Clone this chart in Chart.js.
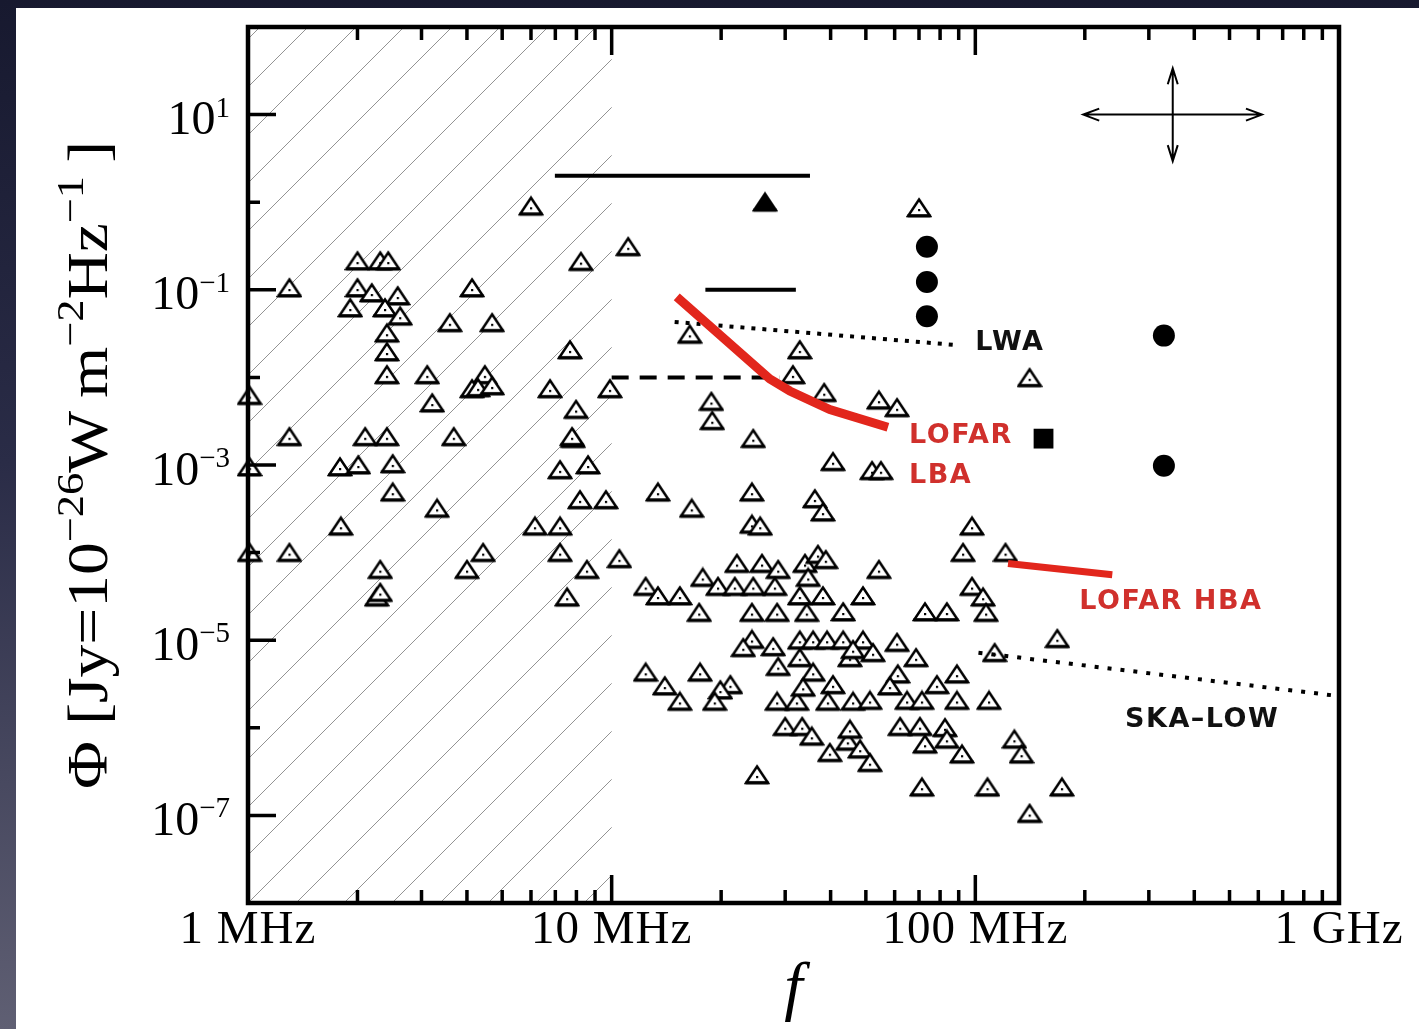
<!DOCTYPE html>
<html>
<head>
<meta charset="utf-8">
<script src="https://cdn.jsdelivr.net/npm/chart.js@4.4.0/dist/chart.umd.min.js"></script>
<style>
  html, body { margin: 0; padding: 0; }
  body {
    width: 1419px; height: 1029px; overflow: hidden; position: relative;
    background: linear-gradient(180deg, #17192f 0%, #2a2c47 45%, #5f5f73 100%);
  }
  #panel { position: absolute; left: 16px; top: 8px; width: 1403px; height: 1021px; background: #fff; }
</style>
</head>
<body>
<div id="panel"><canvas id="chart" width="1403" height="1021"></canvas></div>
<script>
// frequency in MHz, flux density in Jy
const triFreq = [
  6.00, 2.00, 2.31, 2.43, 1.30, 2.00, 2.19, 2.58, 4.13, 1.91,
  2.38, 2.62, 3.59, 4.69, 2.41, 2.41, 2.41, 3.11, 4.48, 4.13,
  4.29, 4.69, 3.21, 1.01, 6.77, 1.30, 2.10, 2.41, 3.68, 1.79,
  2.01, 2.50, 1.01, 7.83, 7.21, 8.61, 2.50, 3.31, 8.18, 9.64,
  1.80, 6.15, 7.21, 1.30, 1.01, 4.43, 7.21, 10.5, 2.31, 4.00,
  8.55, 2.26, 2.31, 7.54, 11.1, 8.23, 16.4, 32.9, 7.68, 31.5,
  9.89, 7.98, 18.8, 18.9, 7.78, 24.5, 70.0, 38.4, 54.3, 60.9,
  141, 40.6, 52.0, 55.0, 13.4, 24.3, 36.2, 38.1, 16.6, 24.3,
  25.6, 22.1, 25.9, 28.7, 34.0, 36.9, 38.8, 17.8, 12.4, 13.4,
  15.4, 19.6, 21.8, 24.5, 28.1, 34.7, 32.9, 38.1, 49.1, 17.4,
  24.3, 28.5, 34.4, 43.3, 24.3, 23.0, 27.8, 32.9, 35.8, 39.1,
  43.3, 49.1, 45.2, 32.9, 28.7, 12.4, 14.0, 17.5, 21.2, 19.9,
  35.8, 40.6, 15.4, 19.2, 28.5, 32.3, 39.3, 46.1, 33.6, 30.0,
  33.4, 35.5, 39.8, 44.6, 45.2, 25.1, 97.9, 92.5, 121, 54.3,
  97.9, 105, 72.7, 83.5, 107, 168, 46.1, 52.3, 60.9, 68.7,
  113, 61.2, 89.0, 58.2, 78.4, 51.3, 64.9, 71.3, 89.0, 109,
  62.1, 70.4, 82.5, 128, 72.7, 83.5, 91.9, 134, 48.2, 51.3,
  71.3, 108, 173, 141
];
const triFlux = [
  0.90, 0.213, 0.213, 0.213, 0.105, 0.105, 0.092, 0.085, 0.105, 0.062,
  0.062, 0.050, 0.042, 0.042, 0.032, 0.0195, 0.0107, 0.0107, 0.0107, 0.0074,
  0.0076, 0.0080, 0.0051, 0.0062, 0.0074, 0.0021, 0.0021, 0.0021, 0.0021, 9.5e-4,
  1.0e-3, 1.03e-3, 9.5e-4, 2.0e-3, 8.8e-4, 1.0e-3, 4.9e-4, 3.2e-4, 4.0e-4, 4.0e-4,
  2.0e-4, 2.0e-4, 2.0e-4, 1.0e-4, 1.0e-4, 1.0e-4, 1.0e-4, 8.5e-5, 6.4e-5, 6.4e-5,
  6.4e-5, 3.1e-5, 3.5e-5, 3.1e-5, 0.31, 0.21, 0.031, 0.0206, 0.0206, 0.0107,
  0.0074, 0.0043, 0.0053, 0.0032, 0.0021, 0.0020, 0.86, 0.0067, 0.0055, 0.0045,
  0.0099, 1.09e-3, 8.6e-4, 8.6e-4, 4.9e-4, 4.9e-4, 4.1e-4, 2.9e-4, 3.2e-4, 2.1e-4,
  2.0e-4, 7.5e-5, 7.5e-5, 6.4e-5, 7.5e-5, 9.5e-5, 8.3e-5, 5.2e-5, 4.1e-5, 3.2e-5,
  3.2e-5, 4.1e-5, 4.1e-5, 4.1e-5, 4.1e-5, 5.2e-5, 3.2e-5, 3.2e-5, 3.2e-5, 2.07e-5,
  2.07e-5, 2.07e-5, 2.07e-5, 2.1e-5, 1.02e-5, 8.2e-6, 8.4e-6, 1.0e-5, 1.0e-5, 1.0e-5,
  1.0e-5, 1.0e-5, 6.3e-6, 6.3e-6, 5.0e-6, 4.3e-6, 3.0e-6, 4.3e-6, 3.1e-6, 2.7e-6,
  4.3e-6, 3.1e-6, 2.0e-6, 2.0e-6, 2.0e-6, 2.0e-6, 2.0e-6, 2.0e-6, 2.9e-6, 1.03e-6,
  1.03e-6, 8.0e-7, 5.2e-7, 7.0e-7, 9.6e-7, 2.9e-7, 2.0e-4, 1.0e-4, 1.0e-4, 6.4e-5,
  4.1e-5, 3.1e-5, 2.1e-5, 2.1e-5, 2.07e-5, 1.04e-5, 7.8e-6, 7.2e-6, 9.4e-6, 6.3e-6,
  7.2e-6, 4.1e-6, 4.1e-6, 3.0e-6, 3.1e-6, 2.05e-6, 2.05e-6, 2.05e-6, 2.05e-6, 2.05e-6,
  1.03e-6, 1.03e-6, 1.0e-6, 7.4e-7, 6.5e-7, 7.4e-7, 5.0e-7, 5.0e-7, 5.7e-7, 4.0e-7,
  2.1e-7, 2.1e-7, 2.1e-7, 1.05e-7
];

const filledTriFreq = [26.4];
const filledTriFlux = [1.0];
const circleFreq = [73.6, 73.6, 73.6, 330, 330];
const circleFlux = [0.31, 0.123, 0.050, 0.030, 0.00098];
const squareFreq = [154];
const squareFlux = [0.0020];

// instrument sensitivity curves
const lbaFreq = [15.1, 27.2, 30.9, 39.8, 57.5];
const lbaFlux = [0.083, 0.0096, 0.0070, 0.0043, 0.0027];
const hbaFreq = [123, 238];
const hbaFlux = [7.5e-5, 5.6e-5];
const lwaFreq = [14.9, 87.9];
const lwaFlux = [0.043, 0.0235];
const skaFreq = [102, 1000];
const skaFlux = [7.2e-6, 2.3e-6];

// horizontal limit bars
const barHighFreq = [6.98, 35.1];
const barHighFlux = [2.0, 2.0];
const barMidFreq = [18.1, 32.1];
const barMidFlux = [0.10, 0.10];
const barDashFreq = [10, 29.0];
const barDashFlux = [0.010, 0.010];

// text labels in the plot
const noteText = ['LWA', 'LOFAR', 'LBA', 'LOFAR HBA', 'SKA\u2013LOW'];
const noteFreq = [100, 65.7, 65.7, 193, 258];
const noteFlux = [0.0247, 0.00215, 0.00075, 2.75e-5, 1.24e-6];
const noteRed = [false, true, true, true, false];

// the double-arrow cross in the upper right
const crossHFreq = [198, 614];
const crossHFlux = 10;
const crossVFreq = 349;
const crossVFlux = [33.8, 2.94];

const xTickValues = [1, 10, 100, 1000];
const xTickLabels = ['1 MHz', '10 MHz', '100 MHz', '1 GHz'];
const yTickExps = [1, -1, -3, -5, -7];
const yMinorExps = [0, -2, -4, -6];
const hatchBand = [1, 10];

const RED = '#e2261c';
const LABEL_RED = '#d0302c';
const SERIF = '"Liberation Serif", "DejaVu Serif", serif';

function pts(xs, ys) {
  return xs.map((v, i) => ({ x: v, y: ys[i] }));
}

// open triangle with a centre dot, like the original symbols
function makeTriangle(filled) {
  const c = document.createElement('canvas');
  c.width = 26; c.height = 22;
  const g = c.getContext('2d');
  g.beginPath();
  g.moveTo(13, 2.5); g.lineTo(24, 19); g.lineTo(2, 19); g.closePath();
  g.fillStyle = filled ? '#000' : '#fff';
  g.fill();
  g.lineWidth = 2.5;
  g.strokeStyle = '#000';
  g.stroke();
  g.fillStyle = '#000';
  g.fillRect(1.5, 17.2, 23, 3.2);
  if (!filled) g.fillRect(12, 12, 2.2, 2.2);
  return c;
}

function richWidth(ctx, parts, base, sup) {
  let w = 0;
  for (const [t, s] of parts) { ctx.font = s ? sup : base; w += ctx.measureText(t).width; }
  return w;
}
function drawRich(ctx, parts, base, sup, rise, x0, y0) {
  let x = x0;
  for (const [t, s] of parts) {
    ctx.font = s ? sup : base;
    ctx.fillText(t, x, s ? y0 - rise : y0);
    x += ctx.measureText(t).width;
  }
}

const axesPlugin = {
  id: 'axesPlugin',
  beforeDatasetsDraw(chart) {
    const { ctx, chartArea: a, scales: { x } } = chart;
    // hatched band 1-10 MHz
    const x0 = x.getPixelForValue(hatchBand[0]);
    const x1 = x.getPixelForValue(hatchBand[1]);
    const h = a.bottom - a.top;
    const step = 48;
    ctx.save();
    ctx.beginPath();
    ctx.rect(x0, a.top, x1 - x0, h);
    ctx.clip();
    ctx.strokeStyle = '#939393';
    ctx.lineWidth = 1;
    ctx.beginPath();
    for (let s = x0 - Math.ceil(h / step) * step; s < x1; s += step) {
      ctx.moveTo(s, a.bottom);
      ctx.lineTo(s + h, a.top);
    }
    ctx.stroke();
    ctx.restore();
  },
  afterDatasetsDraw(chart) {
    const { ctx, chartArea: a, scales: { x, y } } = chart;
    ctx.save();
    ctx.strokeStyle = '#000';
    ctx.fillStyle = '#000';

    // ticks
    ctx.lineWidth = 3.5;
    ctx.beginPath();
    xTickValues.slice(0, -1).forEach(d => {
      for (let m = 2; m <= 9; m++) {
        const px = x.getPixelForValue(d * m);
        ctx.moveTo(px, a.bottom); ctx.lineTo(px, a.bottom - 13);
        ctx.moveTo(px, a.top); ctx.lineTo(px, a.top + 13);
      }
    });
    xTickValues.forEach(v => {
      const px = x.getPixelForValue(v);
      ctx.moveTo(px, a.bottom); ctx.lineTo(px, a.bottom - 28);
      ctx.moveTo(px, a.top); ctx.lineTo(px, a.top + 28);
    });
    yTickExps.forEach(e => {
      const py = y.getPixelForValue(Math.pow(10, e));
      ctx.moveTo(a.left, py); ctx.lineTo(a.left + 28, py);
    });
    yMinorExps.forEach(e => {
      const py = y.getPixelForValue(Math.pow(10, e));
      ctx.moveTo(a.left, py); ctx.lineTo(a.left + 12, py);
    });
    ctx.stroke();

    // frame
    ctx.lineWidth = 4.5;
    ctx.strokeRect(a.left, a.top, a.right - a.left, a.bottom - a.top);

    // x tick labels
    ctx.textAlign = 'center';
    ctx.textBaseline = 'alphabetic';
    ctx.font = '47px ' + SERIF;
    ctx.letterSpacing = '1px';
    xTickValues.forEach((v, i) => {
      ctx.fillText(xTickLabels[i], x.getPixelForValue(v), a.bottom + 40);
    });
    ctx.letterSpacing = '0px';

    // y tick labels 10^n
    ctx.textAlign = 'left';
    const base = '48px ' + SERIF, sup = '29px ' + SERIF;
    yTickExps.forEach(e => {
      const py = y.getPixelForValue(Math.pow(10, e));
      const parts = [['10', false], [e < 0 ? '\u2212' + (-e) : String(e), true]];
      const w = richWidth(ctx, parts, base, sup);
      drawRich(ctx, parts, base, sup, 17.5, a.left - 18 - w, py + 19.5);
    });

    // y axis title
    const tParts = [['\u03A6 [Jy=10', false], ['\u221226', true], ['W\u2009m', false],
      ['\u22122', true], ['Hz', false], ['\u22121', true], ['\u2009]', false]];
    const tBase = '56px ' + SERIF, tSup = '38px ' + SERIF;
    const tw = richWidth(ctx, tParts, tBase, tSup);
    ctx.save();
    ctx.translate(a.left - 141, (a.top + a.bottom) / 2);
    ctx.rotate(-Math.PI / 2);
    ctx.scale(648 / tw, 1);
    drawRich(ctx, tParts, tBase, tSup, 24, -tw / 2, 0);
    ctx.restore();

    // x axis title
    ctx.textAlign = 'center';
    ctx.font = 'italic 66px ' + SERIF;
    ctx.fillText('f', (a.left + a.right) / 2, a.bottom + 105);

    // in-plot labels
    ctx.textAlign = 'left';
    ctx.textBaseline = 'middle';
    ctx.font = 'bold 27px "DejaVu Sans", "Liberation Sans", sans-serif';
    ctx.letterSpacing = '1.5px';
    noteText.forEach((t, i) => {
      ctx.fillStyle = noteRed[i] ? LABEL_RED : '#111';
      ctx.fillText(t, x.getPixelForValue(noteFreq[i]), y.getPixelForValue(noteFlux[i]));
    });
    ctx.letterSpacing = '0px';

    // double arrow cross
    const hx0 = x.getPixelForValue(crossHFreq[0]), hx1 = x.getPixelForValue(crossHFreq[1]);
    const hy = y.getPixelForValue(crossHFlux);
    const vx = x.getPixelForValue(crossVFreq);
    const vy0 = y.getPixelForValue(crossVFlux[0]), vy1 = y.getPixelForValue(crossVFlux[1]);
    ctx.strokeStyle = '#000';
    ctx.lineWidth = 2;
    ctx.beginPath();
    ctx.moveTo(hx0, hy); ctx.lineTo(hx1, hy);
    ctx.moveTo(vx, vy0); ctx.lineTo(vx, vy1);
    // heads
    ctx.moveTo(hx0 + 16, hy - 6); ctx.lineTo(hx0, hy); ctx.lineTo(hx0 + 16, hy + 6);
    ctx.moveTo(hx1 - 16, hy - 6); ctx.lineTo(hx1, hy); ctx.lineTo(hx1 - 16, hy + 6);
    ctx.moveTo(vx - 5, vy0 + 16); ctx.lineTo(vx, vy0); ctx.lineTo(vx + 5, vy0 + 16);
    ctx.moveTo(vx - 5, vy1 - 16); ctx.lineTo(vx, vy1); ctx.lineTo(vx + 5, vy1 - 16);
    ctx.stroke();

    ctx.restore();
  }
};

const openTri = makeTriangle(false);
const fullTri = makeTriangle(true);

function lineSet(xs, ys, color, width, dash) {
  return {
    data: pts(xs, ys),
    showLine: true,
    borderColor: color,
    borderWidth: width,
    borderDash: dash || [],
    borderCapStyle: 'butt',
    pointRadius: 0,
    fill: false,
    tension: 0,
    order: 0,
    clip: false
  };
}

new Chart(document.getElementById('chart'), {
  type: 'scatter',
  data: {
    datasets: [
      lineSet(lbaFreq, lbaFlux, RED, 9),
      lineSet(hbaFreq, hbaFlux, RED, 7),
      lineSet(lwaFreq, lwaFlux, '#000', 4, [4, 7]),
      lineSet(skaFreq, skaFlux, '#000', 4, [4, 9]),
      lineSet(barHighFreq, barHighFlux, '#000', 4),
      lineSet(barMidFreq, barMidFlux, '#000', 4),
      lineSet(barDashFreq, barDashFlux, '#000', 4, [17, 11]),
      {
        data: pts(triFreq, triFlux),
        pointStyle: openTri, pointRadius: 10, order: 1, clip: false
      },
      {
        data: pts(filledTriFreq, filledTriFlux),
        pointStyle: fullTri, pointRadius: 10, order: 1, clip: false
      },
      {
        data: pts(circleFreq, circleFlux),
        pointStyle: 'circle', pointRadius: 11, backgroundColor: '#000',
        borderWidth: 0, order: 1
      },
      {
        data: pts(squareFreq, squareFlux),
        pointStyle: 'rect', pointRadius: 14, backgroundColor: '#000',
        borderWidth: 0, order: 1
      }
    ]
  },
  options: {
    responsive: false,
    animation: false,
    events: [],
    layout: { padding: { left: 232, right: 80, top: 19, bottom: 126 }, autoPadding: false },
    plugins: { legend: { display: false }, tooltip: { enabled: false } },
    scales: {
      x: {
        type: 'logarithmic', min: 1, max: 1000,
        grid: { display: false }, border: { display: false }, ticks: { display: false },
        afterFit: s => { s.height = 0; }
      },
      y: {
        type: 'logarithmic', min: 1e-8, max: 100,
        grid: { display: false }, border: { display: false }, ticks: { display: false },
        afterFit: s => { s.width = 0; }
      }
    }
  },
  plugins: [axesPlugin]
});
</script>
</body>
</html>
